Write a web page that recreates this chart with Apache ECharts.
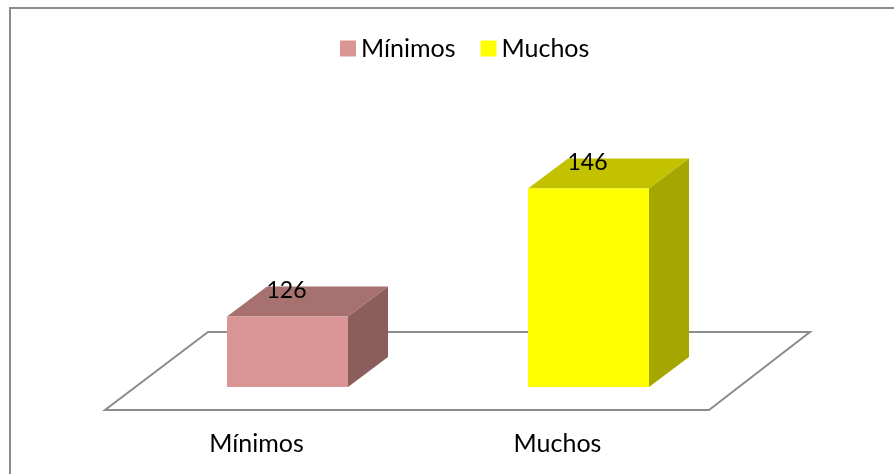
<!DOCTYPE html>
<html><head><meta charset="utf-8">
<style>html,body{margin:0;padding:0;background:#fff}#c{width:894px;height:474px}</style>
<script src="https://cdn.jsdelivr.net/npm/echarts@6/dist/echarts.min.js"></script>
</head><body><div id="c"></div>
<script>
const categories = ['Mínimos', 'Muchos'];
const seriesNames = ['Mínimos', 'Muchos'];
const minimosValues = [126, null];
const muchosValues = [null, 146];
const frontColors = ['#D99694', '#FFFF00'];
const topColors = ['#A6716F', '#C2C200'];
const sideColors = ['#8B5E5C', '#A6A600'];
const FONT = 'Lato';
const DEPTH_X = 40, DEPTH_Y = -30, BAR_W = 121;

const chart = echarts.init(document.getElementById('c'), null, {renderer: 'canvas'});

function box(idx) {
  return function (params, api) {
    const v = api.value(1);
    const top = api.coord([api.value(0), v]);
    const base = api.coord([api.value(0), 115]);
    const l = top[0] - BAR_W / 2, r = top[0] + BAR_W / 2, t = top[1], b = base[1];
    const poly = (pts, fill) => ({type: 'polygon', shape: {points: pts}, style: {fill: fill}});
    return {type: 'group', children: [
      poly([[l, t], [r, t], [r + DEPTH_X, t + DEPTH_Y], [l + DEPTH_X, t + DEPTH_Y]], topColors[idx]),
      poly([[r, t], [r + DEPTH_X, t + DEPTH_Y], [r + DEPTH_X, b + DEPTH_Y], [r, b]], sideColors[idx]),
      poly([[l, t], [r, t], [r, b], [l, b]], frontColors[idx]),
      {type: 'text', x: top[0] - 1, y: t + DEPTH_Y + 4, z2: 10,
        style: {text: String(v), fill: '#000', font: '23px ' + FONT, align: 'center', verticalAlign: 'middle'}}
    ]};
  };
}
const seriesData = [minimosValues, muchosValues];
chart.setOption({
  animation: false,
  backgroundColor: '#fff',
  graphic: [
    {type: 'polyline', z: -1, shape: {points: [[894, 8], [10, 8], [10, 474]]}, style: {fill: 'none', stroke: '#8c8c8c', lineWidth: 2}},
    {type: 'polygon', z: -1, shape: {points: [[105, 410], [709, 410], [810, 332], [208, 332]]}, style: {fill: '#fff', stroke: '#8c8c8c', lineWidth: 2}}
  ],
  legend: {
    data: seriesNames, top: 31, left: 335, itemWidth: 16, itemHeight: 16, itemGap: 25, icon: 'rect',
    textStyle: {fontFamily: FONT, fontSize: 25, color: '#000'}
  },
  grid: {left: 137, width: 602, top: 131, height: 256},
  xAxis: {type: 'category', data: categories, axisLine: {show: false}, axisTick: {show: false},
    axisLabel: {margin: 44, padding: [0, 62, 0, 0], fontFamily: FONT, fontSize: 25, color: '#000'}},
  yAxis: {type: 'value', min: 115, max: 155, show: false},
  series: seriesNames.map((name, i) => ({
    name, type: 'custom', coordinateSystem: 'cartesian2d', renderItem: box(i),
    itemStyle: {color: frontColors[i]},
    data: seriesData[i].map((v, j) => v == null ? null : [j, v]).filter(Boolean),
    encode: {x: 0, y: 1}
  }))
});
</script></body></html>
